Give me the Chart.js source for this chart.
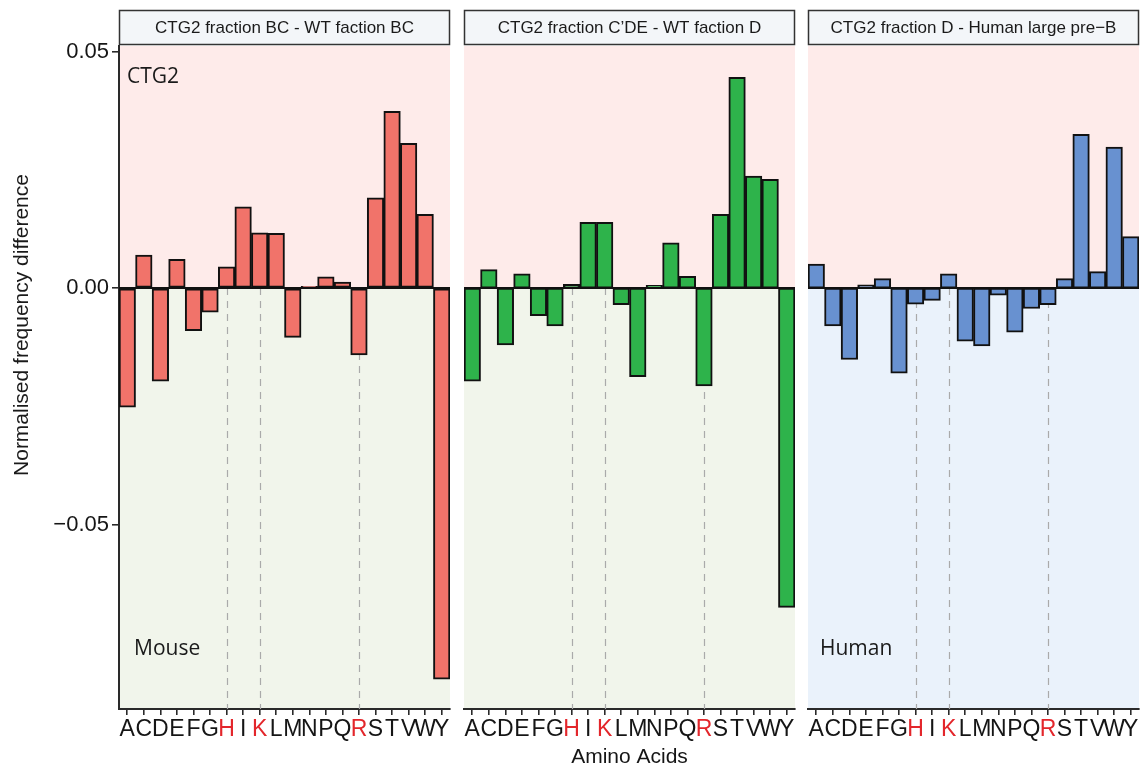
<!DOCTYPE html>
<html>
<head>
<meta charset="utf-8">
<script src="https://cdn.jsdelivr.net/npm/chart.js@4.4.1/dist/chart.umd.min.js"></script>
<style>
  html, body { margin: 0; padding: 0; background: #ffffff; }
  #wrap { position: relative; width: 1146px; height: 770px; }
  #wrap canvas { position: absolute; left: 0; top: 0; }
</style>
</head>
<body>
<div id="wrap">
  <canvas id="c1" width="1146" height="770"></canvas>
  <canvas id="c2" width="1146" height="770"></canvas>
  <canvas id="c3" width="1146" height="770"></canvas>
</div>
<script>
// ---- data ----
const aminoAcids = ["A","C","D","E","F","G","H","I","K","L","M","N","P","Q","R","S","T","V","W","Y"];
const highlighted = ["H","K","R"];
const yTicks = [-0.05, 0, 0.05];
const yMin = -0.089;
const yMax = 0.0512;

const panelTitles = [
  "CTG2 fraction BC - WT faction BC",
  "CTG2 fraction C\u2019DE - WT faction D",
  "CTG2 fraction D - Human large pre\u2212B"
];

const mouseBC = [-0.0252, 0.0070, -0.0197, 0.0061, -0.0090, -0.0051, 0.0045, 0.0172, 0.0117, 0.0116,
                 -0.0104, 0.0004, 0.0024, 0.0013, -0.0141, 0.0191, 0.0374, 0.0306, 0.0156, -0.0827];
const mouseCDE = [-0.0197, 0.0039, -0.0120, 0.0030, -0.0058, -0.0080, 0.0008, 0.0139, 0.0139, -0.0035,
                  -0.0187, 0.0006, 0.0096, 0.0025, -0.0207, 0.0156, 0.0446, 0.0237, 0.0230, -0.0675];
const humanD = [0.0051, -0.0080, -0.0151, 0.0007, 0.0020, -0.0180, -0.0034, -0.0026, 0.0030, -0.0112,
                -0.0122, -0.0015, -0.0093, -0.0043, -0.0035, 0.0020, 0.0325, 0.0035, 0.0298, 0.0109];

// ---- styles ----
const FONT = "'Liberation Sans', Arial, Helvetica, sans-serif";
const NOTE_FONT = "'Open Sans', 'Noto Sans', sans-serif";
const PINK = "#FEEBEA";
const GREEN_BG = "#F1F5EB";
const BLUE_BG = "#EAF2FB";
const AXIS = "#2a2a2a";

function fmt(v) {
  if (Math.abs(v) < 1e-9) return "0.00";
  return (v < 0 ? "\u2212" : "") + Math.abs(v).toFixed(2);
}

const panelPlugin = {
  id: "panelDecor",
  beforeDraw(chart, args, opts) {
    const ctx = chart.ctx, a = chart.chartArea, y = chart.scales.y;
    const y0 = y.getPixelForValue(0);
    ctx.save();
    ctx.fillStyle = PINK;
    ctx.fillRect(a.left, a.top, a.right - a.left, y0 - a.top);
    ctx.fillStyle = opts.lowerBg;
    ctx.fillRect(a.left, y0, a.right - a.left, a.bottom - y0);
    ctx.restore();
  },
  beforeDatasetsDraw(chart) {
    const ctx = chart.ctx, a = chart.chartArea, x = chart.scales.x, y = chart.scales.y;
    const y0 = y.getPixelForValue(0);
    ctx.save();
    ctx.strokeStyle = "#aaaaaa";
    ctx.lineWidth = 1.2;
    ctx.setLineDash([7, 6]);
    highlighted.forEach(h => {
      const px = Math.round(x.getPixelForValue(aminoAcids.indexOf(h))) + 0.5;
      ctx.beginPath();
      ctx.moveTo(px, y0);
      ctx.lineTo(px, a.bottom);
      ctx.stroke();
    });
    ctx.restore();
  },
  afterDatasetsDraw(chart) {
    const ctx = chart.ctx, a = chart.chartArea, y = chart.scales.y;
    const y0 = y.getPixelForValue(0);
    ctx.save();
    ctx.strokeStyle = "#111";
    ctx.lineWidth = 2;
    ctx.beginPath();
    ctx.moveTo(a.left, y0);
    ctx.lineTo(a.right, y0);
    ctx.stroke();
    ctx.restore();
  },
  afterDraw(chart, args, opts) {
    const ctx = chart.ctx, a = chart.chartArea;
    ctx.save();
    // strip
    ctx.fillStyle = "#F3F6F9";
    ctx.fillRect(a.left, 10, a.right - a.left, 35);
    ctx.strokeStyle = "#333";
    ctx.lineWidth = 1.5;
    ctx.strokeRect(a.left + 0.5, 10.5, a.right - a.left - 1, 34);
    ctx.fillStyle = "#1a1a1a";
    ctx.font = "17px " + FONT;
    ctx.textAlign = "center";
    ctx.textBaseline = "middle";
    ctx.fillText(opts.title, (a.left + a.right) / 2, 28);
    // notes
    ctx.font = "21px " + NOTE_FONT;
    ctx.textAlign = "left";
    ctx.textBaseline = "alphabetic";
    ctx.fillStyle = "#1a1a1a";
    if (opts.top) ctx.fillText(opts.top, a.left + 8, 83);
    if (opts.bottom) ctx.fillText(opts.bottom, a.left + opts.bottomDx, 655);
    // y title
    if (opts.yTitle) {
      ctx.translate(22, 325);
      ctx.rotate(-Math.PI / 2);
      ctx.font = "21px " + FONT;
      ctx.textAlign = "center";
      ctx.textBaseline = "middle";
      ctx.fillText(opts.yTitle, 0, 0);
    }
    ctx.restore();
  }
};

function makeChart(id, data, color, lowerBg, padL, padR, showY, title, notes, xTitle) {
  return new Chart(document.getElementById(id), {
    type: "bar",
    data: {
      labels: aminoAcids,
      datasets: [{
        data: data,
        backgroundColor: color,
        borderColor: "#111",
        borderWidth: 2,
        borderSkipped: false,
        barPercentage: 1.0,
        categoryPercentage: 1.0
      }]
    },
    options: {
      responsive: false,
      animation: false,
      devicePixelRatio: 1,
      layout: { padding: { left: padL, right: padR, top: 46, bottom: 0 } },
      plugins: {
        legend: { display: false },
        tooltip: { enabled: false },
        panelDecor: Object.assign({ lowerBg: lowerBg, title: title }, notes)
      },
      scales: {
        x: {
          type: "category",
          offset: true,
          afterFit(scale) { scale.height = 61; },
          grid: { display: true, drawOnChartArea: false, drawTicks: true, tickLength: 6, offset: false, color: AXIS, lineWidth: 1.6 },
          border: { display: true, color: AXIS, width: 2 },
          ticks: {
            autoSkip: false, maxRotation: 0, minRotation: 0, padding: 1,
            font: { family: FONT, size: 23 },
            color: (c) => highlighted.includes(aminoAcids[c.index]) ? "#E3262B" : "#151515"
          },
          title: {
            display: !!xTitle, text: xTitle || "",
            font: { family: FONT, size: 21 }, color: "#151515",
            padding: { top: 0, bottom: 0 }
          }
        },
        y: {
          display: showY,
          min: yMin, max: yMax,
          afterFit(scale) { scale.width = showY ? 119 : 0; },
          afterBuildTicks(scale) { scale.ticks = yTicks.map(v => ({ value: v })); },
          grid: { display: true, drawOnChartArea: false, drawTicks: true, tickLength: 7, color: AXIS, lineWidth: 1.6 },
          border: { display: true, color: AXIS, width: 2 },
          ticks: {
            padding: 3,
            font: { family: FONT, size: 22 },
            color: "#151515",
            callback: (v) => fmt(v)
          }
        }
      }
    },
    plugins: [panelPlugin]
  });
}

makeChart("c1", mouseBC, "#F1736A", GREEN_BG, 0, 1146 - 450, true, panelTitles[0],
  { top: "CTG2", bottom: "Mouse", bottomDx: 15, yTitle: "Normalised frequency difference" }, null);
makeChart("c2", mouseCDE, "#2EB34B", GREEN_BG, 464, 1146 - 795, false, panelTitles[1],
  {}, "Amino Acids");
makeChart("c3", humanD, "#6891D0", BLUE_BG, 808, 1146 - 1139, false, panelTitles[2],
  { bottom: "Human", bottomDx: 12 }, null);
</script>
</body>
</html>
